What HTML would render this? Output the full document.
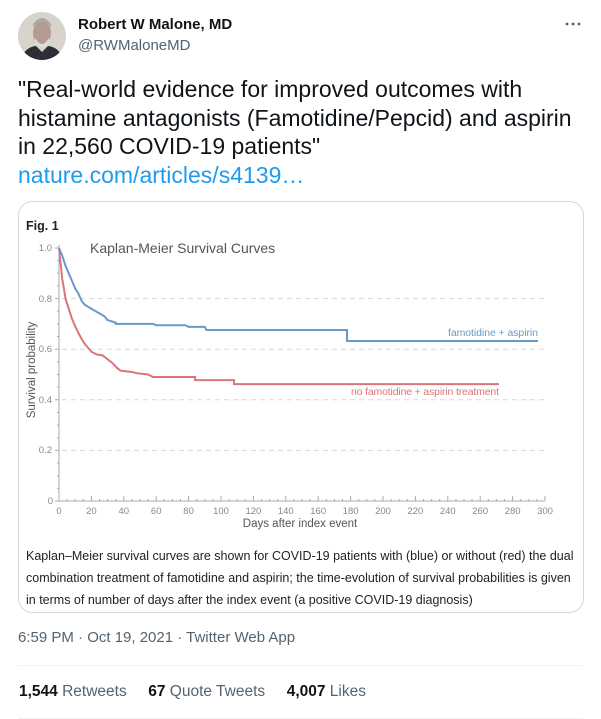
<!DOCTYPE html>
<html><head><meta charset="utf-8"><style>
body{margin:0;width:601px;height:719px;background:#fff;overflow:hidden;font-family:"Liberation Sans",sans-serif;position:relative}
.a{position:absolute;white-space:nowrap}
</style></head><body>
<svg class="a" style="left:0;top:0" width="601" height="719">
<defs><clipPath id="av"><circle cx="42" cy="36" r="24"/></clipPath></defs>
<circle cx="42" cy="36" r="24" fill="#d8d4cc"/>
<g clip-path="url(#av)">
<ellipse cx="42" cy="33" rx="9" ry="12" fill="#b39c8f"/>
<path d="M33 27 Q42 16 51 27 L51 24 Q42 12 33 24Z" fill="#aaa"/>
<path d="M35 38 Q42 50 49 38 L49 44 Q42 50 35 44Z" fill="#ddd"/>
<path d="M20 62 Q24 47 36 46 L42 52 L48 46 Q60 47 64 62Z" fill="#2d2f36"/>
</g>
<rect x="18.5" y="201.5" width="565" height="411" rx="14" fill="none" stroke="#cfd9de"/>
<circle cx="567" cy="24" r="1.4" fill="#536471"/><circle cx="573" cy="24" r="1.4" fill="#536471"/><circle cx="579" cy="24" r="1.4" fill="#536471"/>
<line x1="18" y1="665.5" x2="583" y2="665.5" stroke="#eff3f4"/>
<line x1="18" y1="718.5" x2="583" y2="718.5" stroke="#eff3f4"/>
<g stroke="#d8d8d8" stroke-dasharray="5,4" stroke-width="1">
<line x1="62" y1="298.6" x2="546" y2="298.6"/><line x1="62" y1="349.2" x2="546" y2="349.2"/>
<line x1="62" y1="399.8" x2="546" y2="399.8"/><line x1="62" y1="450.4" x2="546" y2="450.4"/>
</g>
<g stroke="#aaa" stroke-width="1">
<line x1="59" y1="245" x2="59" y2="501"/><line x1="59" y1="501" x2="545" y2="501"/>
<path d="M55 248h4M55 298.6h4M55 349.2h4M55 399.8h4M55 450.4h4M55 501h4M57 273.3h2M57 323.9h2M57 374.5h2M57 425.1h2M57 475.7h2M57 260.6h2M57 286h2M57 311.3h2M57 336.5h2M57 361.8h2M57 387.2h2M57 412.5h2M57 437.8h2M57 463h2M57 488.4h2"/>
<path d="M91.4 501v-5M123.8 501v-5M156.2 501v-5M188.6 501v-5M221 501v-5M253.4 501v-5M285.8 501v-5M318.2 501v-5M350.6 501v-5M383 501v-5M415.4 501v-5M447.8 501v-5M480.2 501v-5M512.6 501v-5M545 501v-5"/>
<path d="M67.1 501v-2M75.2 501v-2M83.3 501v-2M99.5 501v-2M107.6 501v-2M115.7 501v-2M131.9 501v-2M140 501v-2M148.1 501v-2M164.3 501v-2M172.4 501v-2M180.5 501v-2M196.7 501v-2M204.8 501v-2M212.9 501v-2M229.1 501v-2M237.2 501v-2M245.3 501v-2M261.5 501v-2M269.6 501v-2M277.7 501v-2M293.9 501v-2M302 501v-2M310.1 501v-2M326.3 501v-2M334.4 501v-2M342.5 501v-2M358.7 501v-2M366.8 501v-2M374.9 501v-2M391.1 501v-2M399.2 501v-2M407.3 501v-2M423.5 501v-2M431.6 501v-2M439.7 501v-2M455.9 501v-2M464 501v-2M472.1 501v-2M488.3 501v-2M496.4 501v-2M504.5 501v-2M520.7 501v-2M528.8 501v-2M536.9 501v-2"/>
</g>
<polyline fill="none" stroke="#d9767a" stroke-width="2" points="59,248 60.6,263.2 62.2,278.4 63.9,288.5 65.5,298.6 68.7,308.7 72,318.8 75.2,326.4 78.4,332.8 81.7,339.1 84.9,344.1 88.2,347.9 91.4,351.7 96.3,354.3 102.7,355.5 107.6,359.3 112.5,363.1 117.3,368.2 120.6,370.7 131.9,372 136.8,373.2 148.1,374.5 153,377 195.1,377 195.1,380.1 234,380.1 234,384.1 499,384.1"/>
<polyline fill="none" stroke="#6a99c9" stroke-width="2" points="59,248 62.2,255.6 65.5,265.7 68.7,273.3 72,280.9 75.2,288.5 78.4,293.5 81.7,301.1 84.9,304.9 91.4,308.7 97.9,312.5 104.4,316.3 107.6,320.1 115.7,322.6 115.7,323.9 153,323.9 156.2,325.2 185.4,325.2 188.6,326.9 204.8,326.9 206.4,330 347,330 347,341 538,341"/>
<g font-family="Liberation Sans, sans-serif" font-size="9.5" fill="#888">
<text x="52" y="251" text-anchor="end">1.0</text><text x="52" y="302" text-anchor="end">0.8</text>
<text x="52" y="352" text-anchor="end">0.6</text><text x="52" y="403" text-anchor="end">0.4</text>
<text x="52" y="453" text-anchor="end">0.2</text><text x="53" y="504" text-anchor="end">0</text>
<g text-anchor="middle"><text x="59" y="514">0</text><text x="91.4" y="514">20</text><text x="123.8" y="514">40</text><text x="156.2" y="514">60</text><text x="188.6" y="514">80</text><text x="221" y="514">100</text><text x="253.4" y="514">120</text><text x="285.8" y="514">140</text><text x="318.2" y="514">160</text><text x="350.6" y="514">180</text><text x="383" y="514">200</text><text x="415.4" y="514">220</text><text x="447.8" y="514">240</text><text x="480.2" y="514">260</text><text x="512.6" y="514">280</text><text x="545" y="514">300</text></g>
</g>
<text x="300" y="527" text-anchor="middle" font-size="11.5" fill="#555">Days after index event</text>
<text transform="translate(35,370) rotate(-90)" text-anchor="middle" font-size="11.5" fill="#555">Survival probability</text>
<text x="90" y="253" font-size="14" fill="#555">Kaplan-Meier Survival Curves</text>
<text x="26" y="230" font-size="12.5" font-weight="bold" fill="#222">Fig. 1</text>
<text x="538" y="336" text-anchor="end" font-size="10.5" fill="#6a99c9" textLength="90">famotidine + aspirin</text>
<text x="499" y="395" text-anchor="end" font-size="10.5" fill="#d9767a" textLength="148">no famotidine + aspirin treatment</text>
</svg>
<div class="a" style="left:78px;top:16px;font-size:15px;font-weight:bold;color:#0f1419">Robert W Malone, MD</div>
<div class="a" style="left:78px;top:37px;font-size:15px;color:#536471">@RWMaloneMD</div>
<div class="a" style="left:18px;top:75px;font-size:23px;line-height:28.5px;color:#0f1419">"Real-world evidence for improved outcomes with<br>histamine antagonists (Famotidine/Pepcid) and aspirin<br>in 22,560 COVID-19 patients"<br><span style="color:#1d9bf0">nature.com/articles/s4139…</span></div>
<div class="a" style="left:26px;top:545px;font-size:12.5px;line-height:22px;color:#222">Kaplan–Meier survival curves are shown for COVID-19 patients with (blue) or without (red) the dual<br>combination treatment of famotidine and aspirin; the time-evolution of survival probabilities is given<br>in terms of number of days after the index event (a positive COVID-19 diagnosis)</div>
<div class="a" style="left:18px;top:629px;font-size:15px;color:#536471">6:59 PM · Oct 19, 2021 · Twitter Web App</div>
<div class="a" style="left:19px;top:683px;font-size:15.5px;color:#536471"><b style="color:#0f1419">1,544</b> Retweets &nbsp;&nbsp;&nbsp; <b style="color:#0f1419">67</b> Quote Tweets &nbsp;&nbsp;&nbsp; <b style="color:#0f1419">4,007</b> Likes</div>
</body></html>
